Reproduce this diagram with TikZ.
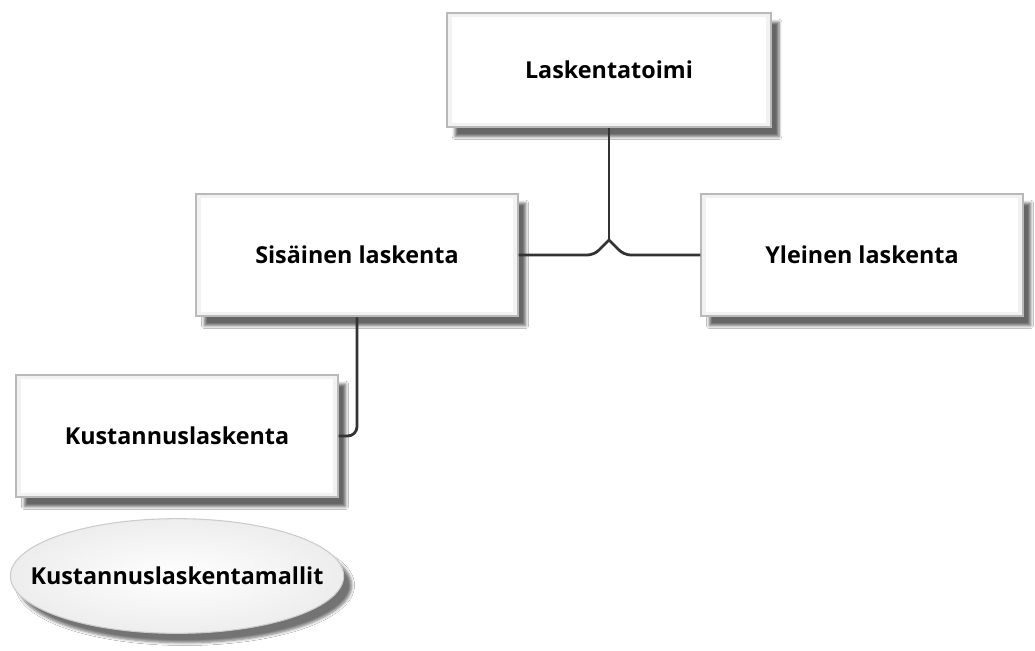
\documentclass[tikz,border=0pt]{standalone}
\usepackage{fontspec}
\setmainfont{Open Sans}
\usetikzlibrary{shapes.geometric,shadows.blur,calc}

\begin{document}
\begin{tikzpicture}[x=.75pt,y=-.75pt,
  txt/.style={font=\fontsize{17.5}{20}\selectfont\bfseries},
  box/.style={txt,draw=gray!55,line width=1.6pt,fill=white,minimum width=241pt,minimum height=92pt,inner sep=0pt,
    blur shadow={shadow xshift=6pt,shadow yshift=-7pt,shadow blur steps=5,shadow opacity=60},
    path picture={\draw[gray!10,line width=7pt](path picture bounding box.south west)rectangle(path picture bounding box.north east);}},
  oval/.style={ellipse,draw=gray!40,line width=.8pt,inner color=white,outer color=gray!14,minimum width=250pt,minimum height=86pt,inner sep=0pt,
    blur shadow={shadow xshift=6pt,shadow yshift=-7pt,shadow blur steps=5,shadow opacity=55}},
  link/.style={draw=black!80,line width=2.1pt,rounded corners=5pt}]
\useasboundingbox[fill=white](0,0)rectangle(1035,650);
\node[box,minimum width=243pt,minimum height=86pt](toimi)at(609,70){Laskentatoimi};
\node[box](sis)at(357,255){Sisäinen laskenta};
\node[box](yle)at(862,255){Yleinen laskenta};
\node[box](kus)at(177,436){Kustannuslaskenta};
\node[oval,label={[txt]center:Kustannuslaskentamallit}](mallit)at(177,576){};
% liitokset
\coordinate(jn)at($(toimi.south|-sis.east)+(0,-15)$);
\draw[link](toimi.south)--(jn);
\draw[link](sis.east)--($(jn|-sis.east)+(-15,0)$)--(jn);
\draw[link](yle.west)--($(jn|-yle.west)+(15,0)$)--(jn);
\draw[link,rounded corners=7pt](sis.south)|-(kus.east);
\end{tikzpicture}
\end{document}
